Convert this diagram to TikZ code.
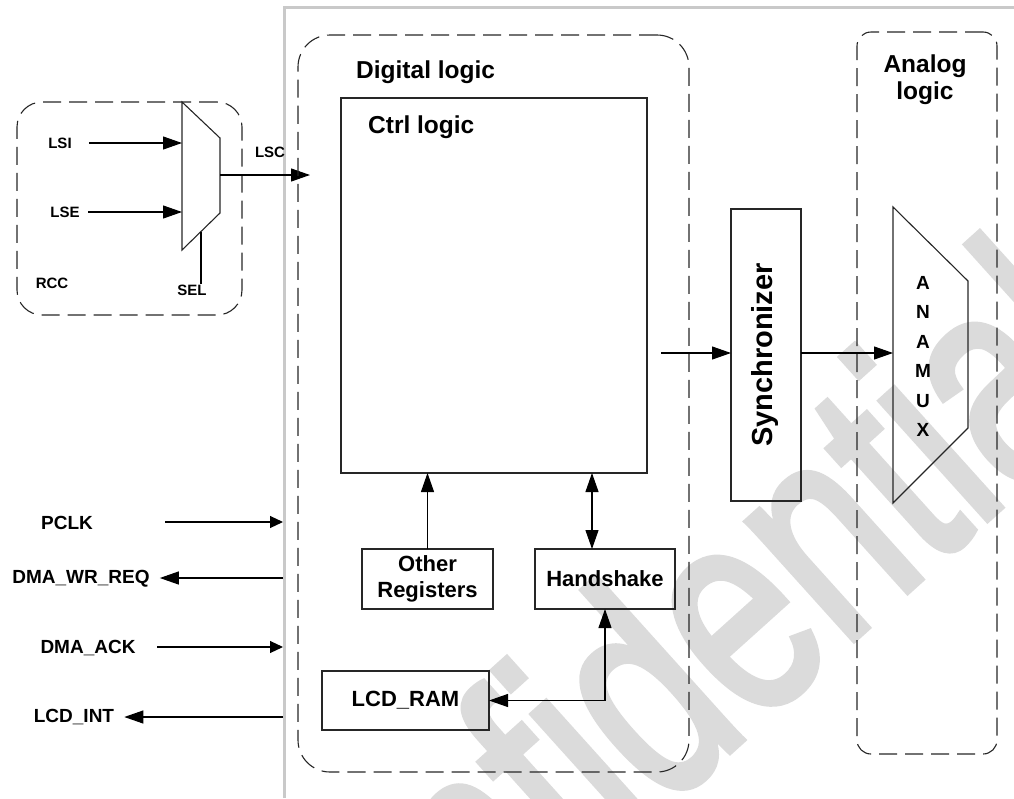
\documentclass[tikz,border=0pt]{standalone}
\usepackage{fontspec}
\setmainfont{Liberation Sans}
\newfontfamily\wmfont[FakeBold=2.5]{Liberation Sans}
\usetikzlibrary{arrows.meta}

\begin{document}
\begin{tikzpicture}[x=1pt, y=-1pt,
  lbl/.style={font=\bfseries\fontsize{19}{22}\selectfont, inner sep=0},
  small/.style={font=\bfseries\fontsize{15}{17}\selectfont, inner sep=0},
  head/.style={font=\bfseries\fontsize{24.5}{27}\selectfont, inner sep=0},
  blk/.style={draw=black!85, line width=1.2pt, inner sep=0, outer sep=0,
              align=center, font=\bfseries\fontsize{22}{26}\selectfont},
  grp/.style={draw=black!85, line width=1.1pt, dash pattern=on 18pt off 8pt,
              inner sep=0, outer sep=0},
  wire/.style={line width=1.1pt},
  sig/.style={wire, -{Triangle[length=19pt,width=13pt]}},
  sigb/.style={wire, {Triangle[length=19pt,width=13pt]}-{Triangle[length=19pt,width=13pt]}},
  sigs/.style={wire, -{Triangle[length=13pt,width=12pt]}},
  frame/.style={draw=black!21, line width=3pt},
]
\useasboundingbox (0,0) rectangle (1014,798);

% watermark behind the drawing (condensed text, then turned)
\begin{scope}
  \clip (0,0) rectangle (1014,798);
  \node[font=\wmfont\fontsize{300}{300}\selectfont, text=black!14,
        rotate=42, anchor=base, inner sep=0] (wm) at (713,766) {\scalebox{0.72}[1]{Confidential}};
\end{scope}

% chip boundary
\draw[frame] (284,798) -- (284,7) -- (1014,7);

% RCC clock selection
\node[grp, rounded corners=25pt, minimum width=225pt, minimum height=213pt] (rcc) at (129.5,208.5) {};
\coordinate (mtl) at (182,102);
\coordinate (mtr) at (220,138);
\coordinate (mbr) at (220,213);
\coordinate (mbl) at (182,250);
\draw[wire, draw=black!85] (mtl) -- (mtr) -- (mbr) -- (mbl) -- cycle;
\coordinate (mi1) at (182,143);
\coordinate (mi2) at (182,212);
\coordinate (mo) at (220,175);
\coordinate (msel) at (201,232);
\coordinate (lsctip) at (310,175);
\node[small] (lsi) at (60,143) {LSI};
\node[small] (lse) at (65,212) {LSE};
\node[small] (lsc) at (270,152) {LSC};
\node[small] (rcclbl) at (52,283) {RCC};
\node[small] (sel) at (192,290) {SEL};
\draw[sig] ([xshift=17pt]lsi.east) -- (mi1);
\draw[sig] (88,212) -- (mi2);
\draw[sig] (mo) -- (lsctip);
\draw[wire] (msel) -- (201,284);

% external signals
\node[lbl] (pclk) at (67,523) {PCLK};
\node[lbl] (dmareq) at (81,579) {DMA\_WR\_REQ};
\node[lbl] (dmaack) at (88,648) {DMA\_ACK};
\node[lbl] (lcdint) at (74,717) {LCD\_INT};
\coordinate (b1) at (283,522);
\coordinate (b2) at (283,578);
\coordinate (b3) at (283,647);
\coordinate (b4) at (283,717);
\draw[sigs] (165,522) -- (b1);
\draw[sig] (b2) -- ([xshift=10pt]dmareq.east |- b2);
\draw[sigs] (157,647) -- (b3);
\draw[sig] (b4) -- ([xshift=10pt]lcdint.east |- b4);

% digital logic
\node[grp, rounded corners=32pt, minimum width=391pt, minimum height=737pt] (dig) at (493.5,403.5) {};
\node[head, anchor=base west] (diglbl) at (356,78) {Digital logic};
\node[blk, minimum width=306pt, minimum height=375pt] (ctrl) at (494,285.5) {};
\node[head, anchor=base west] (ctrllbl) at (368,133) {Ctrl logic};
\node[blk, minimum width=131pt, minimum height=60pt] (oreg) at (427.5,579) {Other\\Registers};
\node[blk, minimum width=140pt, minimum height=60pt] (hs) at (605,579) {Handshake};
\node[blk, minimum width=167pt, minimum height=59pt] (ram) at (405.5,700.5) {LCD\_RAM};
\draw[sig] (oreg.north) -- (oreg.north |- ctrl.south);
\draw[sigb] ([xshift=-13pt]hs.north) -- ([xshift=-13pt]hs.north |- ctrl.south);
\draw[sigb] (ram.east) -- (hs.south |- ram.east) -- (hs.south);

% synchronizer
\node[blk, minimum width=70pt, minimum height=292pt] (sync) at (766,355) {};
\node[font=\bfseries\fontsize{29}{32}\selectfont, rotate=90, inner sep=0] (synclbl) at (765,355) {Synchronizer};
\coordinate (ctrlout) at (661,353);
\draw[sig] (ctrlout) -- (sync.west |- ctrlout);

% analog logic
\node[grp, rounded corners=14pt, minimum width=140pt, minimum height=722pt] (ana) at (927,393) {};
\node[head, align=center, font=\bfseries\fontsize{24.5}{27}\selectfont] (analbl) at (925,80) {Analog\\logic};
\coordinate (atl) at (893,207);
\coordinate (atr) at (968,281);
\coordinate (abr) at (968,428);
\coordinate (abl) at (893,503);
\draw[wire, draw=black!85] (atl) -- (atr) -- (abr) -- (abl) -- cycle;
\node[align=center, inner sep=0, font=\bfseries\fontsize{19}{29.4}\selectfont] (anamux) at (923,356.5) {A\\N\\A\\M\\U\\X};
\coordinate (amuxin) at (893,353);
\draw[sig] (sync.east |- amuxin) -- (amuxin);
\end{tikzpicture}
\end{document}
